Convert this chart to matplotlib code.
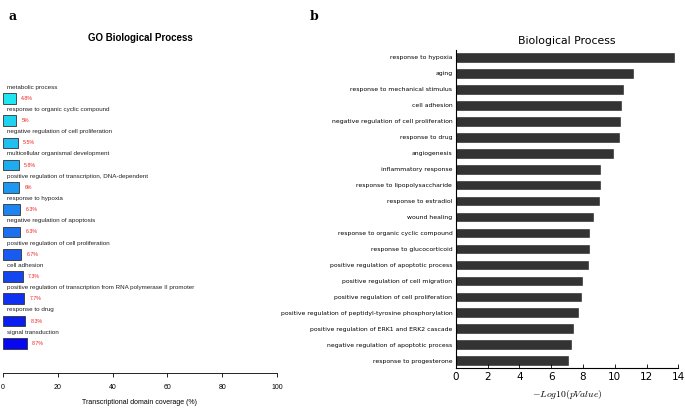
import numpy as np
import matplotlib.pyplot as plt
from matplotlib.colors import LinearSegmentedColormap

plt.rcParams['mathtext.fontset'] = 'cm'

# Panel a: GO Biological Process (transcriptional domain coverage, %)
go_terms = ['metabolic process',
            'response to organic cyclic compound',
            'negative regulation of cell proliferation',
            'multicellular organismal development',
            'positive regulation of transcription, DNA-dependent',
            'response to hypoxia',
            'negative regulation of apoptosis',
            'positive regulation of cell proliferation',
            'cell adhesion',
            'positive regulation of transcription from RNA polymerase II promoter',
            'response to drug',
            'signal transduction']
go_coverage = [4.8, 5, 5.5, 5.8, 6, 6.3, 6.3, 6.7, 7.3, 7.7, 8.3, 8.7]
go_labels = ['4.8%', '5%', '5.5%', '5.8%', '6%', '6.3%', '6.3%', '6.7%',
             '7.3%', '7.7%', '8.3%', '8.7%']

# Panel b: Biological Process (-log10 p-value)
bp_terms = ['response to hypoxia', 'aging', 'response to mechanical stimulus',
            'cell adhesion', 'negative regulation of cell proliferation',
            'response to drug', 'angiogenesis', 'inflammatory response',
            'response to lipopolysaccharide', 'response to estradiol',
            'wound healing', 'response to organic cyclic compound',
            'response to glucocorticoid', 'positive regulation of apoptotic process',
            'positive regulation of cell migration',
            'positive regulation of cell proliferation',
            'positive regulation of peptidyl-tyrosine phosphorylation',
            'positive regulation of ERK1 and ERK2 cascade',
            'negative regulation of apoptotic process',
            'response to progesterone']
bp_logp = [13.7, 11.12, 10.55, 10.38, 10.32, 10.26, 9.9, 9.1, 9.06, 9.04,
           8.66, 8.37, 8.37, 8.31, 7.95, 7.9, 7.72, 7.37, 7.26, 7.07]

narrow = ['Liberation Sans', 'DejaVu Sans']

fig = plt.figure(figsize=(6.85, 4.09), dpi=100)

# ---------- panel a ----------
ax1 = fig.add_axes([0.0039, 0.0888, 0.4009, 0.7525])
cmap = LinearSegmentedColormap.from_list('cb', ['#1fe6f0', '#1e7af0', '#0808f0'])
y1 = np.arange(len(go_terms))
cols = [cmap(i / (len(go_terms) - 1)) for i in y1]
ax1.barh(y1, go_coverage, height=0.48, color=cols, edgecolor='#333333',
         linewidth=0.6)
for i, (term, v, lab) in enumerate(zip(go_terms, go_coverage, go_labels)):
    ax1.text(1.6, i - 0.5, term, fontsize=4.5, family=narrow,
             ha='left', va='center', color='#222222')
    ax1.text(v + 2.0, i, lab, fontsize=3.8, family=narrow,
             ha='left', va='center', color='#ee2222')
ax1.set_xlim(0, 100)
ax1.set_ylim(12.32, -1.5)
for s in ['top', 'right', 'left']:
    ax1.spines[s].set_visible(False)
ax1.spines['bottom'].set_linewidth(0.6)
ax1.set_yticks([])
ax1.set_xticks([0, 20, 40, 60, 80, 100])
ax1.tick_params(axis='x', direction='out', length=3, width=0.6,
                labelsize=5, pad=5)
for t in ax1.get_xticklabels():
    t.set_family(narrow)
ax1.set_xlabel('Transcriptional domain coverage (%)', fontsize=5,
               family=narrow, labelpad=6)
ax1.set_title('GO Biological Process', fontsize=7, fontweight='bold',
              family=narrow, pad=17)

# ---------- panel b ----------
ax2 = fig.add_axes([0.6653, 0.0995, 0.3250, 0.7783])
y2 = np.arange(len(bp_terms))
ax2.barh(y2, bp_logp, height=0.55, color='#333333', edgecolor='#222222',
         linewidth=0.4)
ax2.set_yticks(y2)
ax2.set_yticklabels(bp_terms, fontsize=4.4)
ax2.set_ylim(19.47, -0.46)
ax2.set_xlim(0, 14)
ax2.set_xticks(np.arange(0, 15, 2))
ax2.tick_params(axis='x', direction='in', length=3, width=0.6,
                labelsize=7.5, pad=3)
ax2.tick_params(axis='y', length=0, pad=2.5)
for s in ['top', 'right']:
    ax2.spines[s].set_visible(False)
ax2.spines['left'].set_linewidth(0.8)
ax2.spines['bottom'].set_linewidth(0.8)
ax2.set_xlabel(r'$-Log10(pValue)$', fontsize=7, labelpad=4)
ax2.set_title('Biological Process', fontsize=7.8, pad=4)

# panel letters
fig.text(0.012, 0.975, 'a', fontsize=9, fontweight='bold', family='DejaVu Serif',
         va='top')
fig.text(0.452, 0.975, 'b', fontsize=9, fontweight='bold', family='DejaVu Serif',
         va='top')

plt.savefig('out.png', dpi=100)
